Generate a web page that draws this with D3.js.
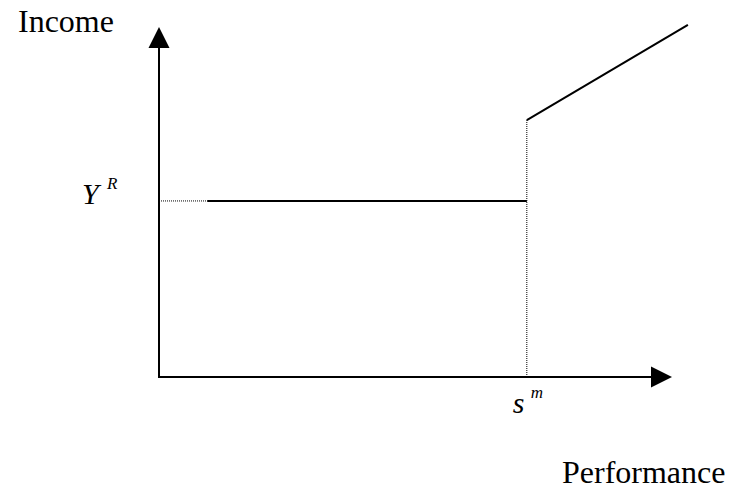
<!DOCTYPE html>
<html>
<head>
<meta charset="utf-8">
<script src="https://cdn.jsdelivr.net/npm/d3@7"></script>
<style>
  html, body { margin: 0; padding: 0; background: #fff; }
  svg { display: block; }
</style>
</head>
<body>
<svg id="chart" width="736" height="490"></svg>
<script>
// Conceptual data (axis units 0..100)
const axisMax = [100, 100];            // [x tip, y tip]
const reservationIncome = 50.3;       // Y^R
const thresholdPerf = 71.7;           // s^m
const flatSolidStart = 9.4;           // where solid flat segment begins
const flatSegment = [[flatSolidStart, reservationIncome], [thresholdPerf, reservationIncome]];
const risingSegment = [[thresholdPerf, 73.4], [103.1, 100.6]];
const labels = { y: "Income", x: "Performance", yr: ["Y", "R"], sm: ["s", "m"] };

const FONT = "'Liberation Serif', 'Times New Roman', Times, 'DejaVu Serif', serif";
const svg = d3.select("#chart");
const x = d3.scaleLinear().domain([0, 100]).range([159, 672]);
const y = d3.scaleLinear().domain([0, 100]).range([377, 27]);

const arrowLen = 20, arrowHalf = 10.5;

// axes
svg.append("line")
  .attr("x1", x(0)).attr("y1", y(0))
  .attr("x2", x(0)).attr("y2", y(axisMax[1]) + arrowLen)
  .attr("stroke", "#000").attr("stroke-width", 2);
svg.append("line")
  .attr("x1", x(0) - 1).attr("y1", y(0))
  .attr("x2", x(axisMax[0]) - arrowLen).attr("y2", y(0))
  .attr("stroke", "#000").attr("stroke-width", 2);

// arrowheads
const tipY = [x(0), y(axisMax[1])];
svg.append("path")
  .attr("d", `M${tipY[0]},${tipY[1]} L${tipY[0] - arrowHalf},${tipY[1] + arrowLen + 1} L${tipY[0] + arrowHalf},${tipY[1] + arrowLen + 1} Z`)
  .attr("fill", "#000");
const tipX = [x(axisMax[0]), y(0)];
svg.append("path")
  .attr("d", `M${tipX[0]},${tipX[1]} L${tipX[0] - arrowLen - 1},${tipX[1] - arrowHalf} L${tipX[0] - arrowLen - 1},${tipX[1] + arrowHalf} Z`)
  .attr("fill", "#000");

const line = d3.line().x(d => x(d[0])).y(d => y(d[1]));

// dotted guides
svg.append("path")
  .attr("d", line([[0, reservationIncome], [flatSolidStart, reservationIncome]]))
  .attr("stroke", "#000").attr("stroke-width", 1).attr("stroke-dasharray", "1,1").attr("fill", "none");
svg.append("path")
  .attr("d", line([[thresholdPerf, 0], [thresholdPerf, risingSegment[0][1]]]))
  .attr("stroke", "#000").attr("stroke-width", 1).attr("stroke-dasharray", "1,1").attr("fill", "none");

// solid segments
svg.append("path").attr("d", line(flatSegment))
  .attr("stroke", "#000").attr("stroke-width", 2).attr("fill", "none");
svg.append("path").attr("d", line(risingSegment))
  .attr("stroke", "#000").attr("stroke-width", 2).attr("fill", "none");

// labels
svg.append("text").attr("x", 18).attr("y", 32).attr("font-family", FONT).attr("font-size", 32).text(labels.y);
svg.append("text").attr("x", 562).attr("y", 483).attr("font-family", FONT).attr("font-size", 32).text(labels.x);

const yr = svg.append("text").attr("font-family", FONT).attr("font-style", "italic");
yr.append("tspan").attr("x", 82).attr("y", y(reservationIncome) + 3).attr("font-size", 30).text(labels.yr[0]);
yr.append("tspan").attr("x", 107).attr("y", y(reservationIncome) - 12).attr("font-size", 17).text(labels.yr[1]);

const sm = svg.append("text").attr("font-family", FONT).attr("font-style", "italic");
sm.append("tspan").attr("x", x(thresholdPerf) - 14).attr("y", y(0) + 36).attr("font-size", 30).text(labels.sm[0]);
sm.append("tspan").attr("x", x(thresholdPerf) + 4).attr("y", y(0) + 21).attr("font-size", 17).text(labels.sm[1]);
</script>
</body>
</html>
